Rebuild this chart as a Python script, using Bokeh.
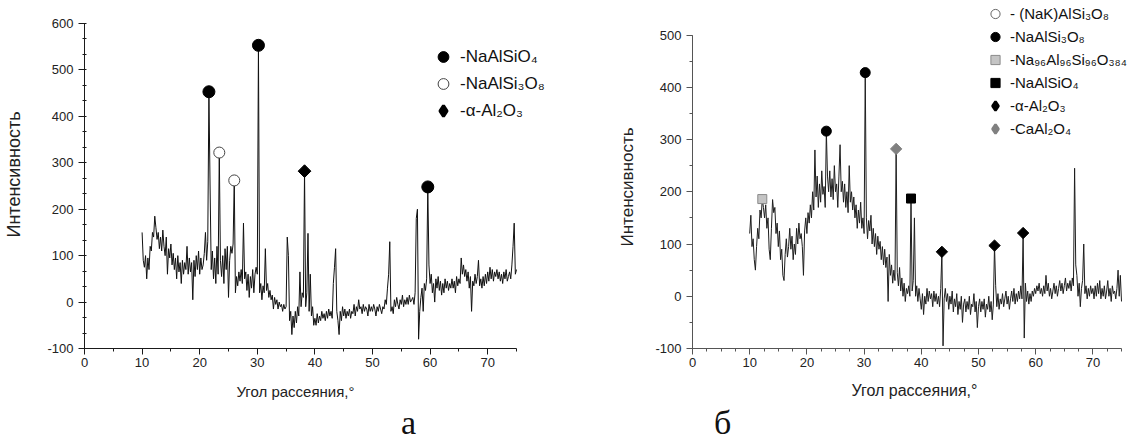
import numpy as np
from bokeh.plotting import figure
from bokeh.layouts import row, column
from bokeh.models import (SingleIntervalTicker, Range1d, Legend, LegendItem, Title, Div,
                          PrintfTickFormatter)
from bokeh.embed import file_html
from bokeh.resources import INLINE

# ---------------- data ----------------
ANGLE_START = 10.0
ANGLE_STEP = 0.2

# panel "а": intensity every 0.2 deg from 10.0 to 75.0
INTENSITY_A = [
    150, 90, 75, 100, 50, 95, 70, 120, 110, 150,
    140, 185, 160, 135, 150, 115, 140, 110, 155, 120,
    100, 140, 60, 115, 95, 125, 80, 105, 70, 95,
    50, 100, 65, 85, 40, 90, 60, 85, 70, 120,
    60, 95, 65, 85, 5, 90, 55, 100, 70, 110,
    60, 95, 70, 80, 105, 150, 90, 130, 453, 250,
    70, 110, 50, 95, 40, 120, 60, 322, 90, 55,
    100, 40, 115, 70, 120, 10, 90, 120, 105, 125,
    262, 20, 55, 35, 65, 45, 70, 40, 170, 50,
    65, 25, 60, 10, 55, 30, 70, 20, 60, 75,
    60, 553, 20, 40, 5, 35, 20, 115, 25, 40,
    10, 25, 5, 15, -15, 10, -5, 5, -15, 0,
    -10, -5, -20, -5, -15, -10, 140, 100, -40, -20,
    -70, -30, -55, -20, -45, -10, -30, 65, -10, 20,
    10, 282, -10, 20, 148, -20, 60, -30, -10, -50,
    -35, -50, -25, -45, -30, -40, -20, -35, -25, -40,
    -20, -35, -15, -30, -20, -35, 40, 75, 115, -20,
    -40, -70, -20, -40, -10, -30, -15, -35, -20, -30,
    -15, -35, -20, -25, -5, -30, -10, -20, 5, -15,
    -10, -25, -5, -20, -10, -15, -30, -5, -20, -10,
    -20, -5, -15, -30, -10, -20, -5, -15, -25, -10,
    -15, 5, -5, 30, 60, 130, -20, -10, -25, 5,
    -10, 10, -5, -15, 5, -5, 15, -10, 5, -5,
    10, -5, 15, 0, 5, 10, -5, 20, 180, 200,
    -80, -20, 10, 30, -20, 40, 25, 50, 248, 80,
    40, 60, 20, 40, 0, 50, 30, 55, 25, 45,
    15, 40, 20, 50, 30, 45, 25, 40, 30, 50,
    30, 45, 20, 55, 35, 50, 40, 95, 60, 80,
    55, 70, 45, 65, 30, 55, -20, 45, 35, 60,
    40, 55, 90, 35, 50, 30, 55, 35, 60, 40,
    65, 45, 75, 50, 70, 45, 65, 55, 70, 50,
    65, 45, 60, 40, 65, 50, 70, 45, 55, 65,
    50, 80, 120, 170, 60, 70,
]

# panel "б": intensity every 0.2 deg from 10.0 to 75.0
INTENSITY_B = [
    120, 155, 95, 110, 70, 50, 95, 130, 110, 165,
    150, 186, 170, 150, 175, 130, 150, 90, 70, 130,
    185, 160, 170, 120, 140, 95, 125, 70, 90, 40,
    30, 80, 110, 75, 95, 130, 90, 115, 70, 100,
    80, 130, 100, 140, 110, 120, 95, 40, 125, 150,
    120, 160, 140, 175, 150, 200, 165, 280, 190, 230,
    170, 215, 180, 240, 195, 210, 170, 316, 230, 200,
    240, 190, 225, 185, 250, 200, 215, 170, 230, 290,
    200, 220, 180, 215, 170, 200, 160, 250, 180, 200,
    165, 190, 150, 175, 130, 165, 140, 180, 130, 150,
    120, 428, 150, 110, 145, 125, 155, 100, 130, 95,
    120, 80, 115, 90, 105, 70, 95, 60, 90, 55,
    75, -10, 80, 40, 60, 25, 50, 30, 282, 45,
    20, 55, 10, 35, 0, 25, -10, 15, 5, 20,
    0, 187, 10, 30, 150, 0, 20, -10, 15, -5,
    -25, 5, -35, 0, -15, 15, -10, 10, -5, 5,
    -20, 10, -10, 5, -15, 0, -20, 15, 85, -95,
    -5, 15, -10, 5, -25, 0, -15, 10, -30, -5,
    -20, 5, -35, -10, -25, 0, -50, -15, -5, -30,
    -10, -25, 0, -35, -15, -20, 5, -30, -10, -60,
    -20, -5, -30, -10, -25, -5, -40, -15, -25, 0,
    -30, -10, -45, -15, 97, 20, -20, 5, -25, -5,
    -15, 5, -20, -5, 10, -15, 0, -25, -5, 10,
    -10, 15, -15, 5, -10, 10, -5, 20, -5, 121,
    -80, 25, -10, 10, -15, 5, -10, 10, 0, 15,
    5, 20, 10, 25, 5, 15, 0, 20, 5, 40,
    10, 25, 0, 15, -5, 10, 25, 5, 20, 0,
    15, 30, 10, 25, 5, 20, 35, 10, 25, 15,
    30, 10, 35, 20, 245, 60, 40, 0, 25, -20,
    15, 30, 100, 5, 20, -5, 15, 0, 20, 5,
    15, -5, 20, 0, 25, 5, 30, -5, 15, 0,
    20, -5, 10, 30, 0, 15, -10, 20, 5, 10,
    -5, 15, 50, 0, 40, -10,
]

# peak markers, panel "а"
A_NAALSIO4_X = [21.6, 30.2, 59.6]
A_NAALSIO4_Y = [453, 553, 248]
A_NAALSI3O8_X = [23.4, 26.0]
A_NAALSI3O8_Y = [322, 262]
A_AL2O3_X = [38.2]
A_AL2O3_Y = [282]

# peak markers, panel "б"
B_NAALSI3O8_X = [23.4, 30.2]
B_NAALSI3O8_Y = [316, 428]
B_NA96_X = [12.2]
B_NA96_Y = [186]
B_NAALSIO4_X = [38.2]
B_NAALSIO4_Y = [187]
B_AL2O3_X = [43.6, 52.8, 57.8]
B_AL2O3_Y = [85, 97, 121]
B_CAAL2O4_X = [35.6]
B_CAAL2O4_Y = [282]

LEGEND_A = ["-NaAlSiO₄", "-NaAlSi₃O₈", "-α-Al₂O₃"]
LEGEND_B = ["- (NaK)AlSi₃O₈", "-NaAlSi₃O₈", "-Na₉₆Al₉₆Si₉₆O₃₈₄",
            "-NaAlSiO₄", "-α-Al₂O₃", "-CaAl₂O₄"]

X_LABEL = "Угол рассеяния,°"
Y_LABEL = "Интенсивность"
PANEL_LETTERS = ["а", "б"]

X_AXIS = (0, 75)
Y_AXIS_A = (-100, 600)
Y_AXIS_B = (-100, 500)

angles_a = ANGLE_START + ANGLE_STEP * np.arange(len(INTENSITY_A))
angles_b = ANGLE_START + ANGLE_STEP * np.arange(len(INTENSITY_B))
NO_POINT = [float("nan")]   # legend-only renderers

FONT = "Liberation Sans"
ROT = np.pi / 4
FIG_H = 414          # figures occupy page y 0..414, panel letters below
FRAME_BOTTOM = 348   # page y of the x axis; both frames span page y 0..348


def style_axes(p, axis_color, minor_x, minor_y, xtick, ytick, ybounds):
    p.xaxis.ticker = SingleIntervalTicker(interval=10, num_minor_ticks=minor_x)
    p.yaxis.ticker = SingleIntervalTicker(interval=100, num_minor_ticks=minor_y)
    p.xaxis.formatter = PrintfTickFormatter(format="%d")
    p.yaxis.formatter = PrintfTickFormatter(format="%d")
    p.xaxis.bounds = X_AXIS
    p.yaxis.bounds = ybounds
    p.xgrid.visible = False
    p.ygrid.visible = False
    p.outline_line_color = None
    for ax in (p.xaxis[0], p.yaxis[0]):
        ax.axis_line_color = axis_color
        ax.major_tick_line_color = axis_color
        ax.minor_tick_line_color = axis_color
        ax.major_tick_in = 0
        ax.major_tick_out = 6
        ax.major_label_text_font = FONT
        ax.major_label_text_font_size = "13px"
        ax.major_label_text_color = "#222222"
        ax.axis_label_text_font = FONT
        ax.axis_label_text_font_style = "normal"
        ax.axis_label_text_color = "#222222"
    p.xaxis[0].minor_tick_in, p.xaxis[0].minor_tick_out = xtick
    p.yaxis[0].minor_tick_in, p.yaxis[0].minor_tick_out = ytick
    p.xaxis[0].major_label_standoff = 3
    p.yaxis[0].major_label_standoff = 5


def text_title(text, size, align, offset, standoff):
    return Title(text=text, align=align, offset=offset, standoff=standoff,
                 vertical_align="middle", text_font=FONT, text_font_size=size,
                 text_font_style="normal", text_color="#222222")


# ---------------- panel а ----------------
# frame: page x 84..580 (axis drawn only to 75 at x=516), page y 0..348 (axis to 600 at y=23)
p1 = figure(width=580, height=FIG_H, x_range=Range1d(0, 75 * 496 / 432),
            y_range=Range1d(-100, -100 + 700 * 348 / 325), title=None,
            output_backend="svg", toolbar_location=None,
            min_border_left=84, min_border_right=0, min_border_top=0,
            min_border_bottom=FIG_H - FRAME_BOTTOM)
style_axes(p1, "#1a1a1a", 2, 3, (0, 3), (2, 2), Y_AXIS_A)
p1.yaxis.axis_label = Y_LABEL
p1.yaxis.axis_label_text_font_size = "18px"
p1.yaxis.axis_label_standoff = 20
p1.add_layout(text_title(X_LABEL, "15px", "left", 152, 25), "below")

p1.line(angles_a, INTENSITY_A, line_color="#111111", line_width=1)

ra1 = p1.scatter(A_NAALSIO4_X, A_NAALSIO4_Y, marker="circle", size=12,
                 fill_color="black", line_color="black")
ra2 = p1.scatter(A_NAALSI3O8_X, A_NAALSI3O8_Y, marker="circle", size=11,
                 fill_color="white", line_color="#444444", line_width=1)
p1.scatter(A_AL2O3_X, A_AL2O3_Y, marker="square", angle=ROT, size=9,
           fill_color="black", line_color="black")
ra3 = p1.scatter(NO_POINT, NO_POINT, marker="diamond", size=12,
                 fill_color="black", line_color="black", line_width=3)

leg1 = Legend(items=[LegendItem(label=LEGEND_A[0], renderers=[ra1]),
                     LegendItem(label=LEGEND_A[1], renderers=[ra2]),
                     LegendItem(label=LEGEND_A[2], renderers=[ra3])],
              location=(343, 224), padding=0, margin=0, spacing=0,
              glyph_width=32, glyph_height=27, label_height=27, label_standoff=1,
              label_text_font=FONT, label_text_font_size="17px",
              label_text_color="#111111",
              border_line_color=None, background_fill_alpha=0)
p1.add_layout(leg1)

# ---------------- panel б ----------------
# frame: page x 692..1136 (axis drawn only to 75 at x=1121), page y 0..348 (axis to 500 at y=34.5)
p2 = figure(width=556, height=FIG_H, x_range=Range1d(0, 75 * 444 / 429),
            y_range=Range1d(-100, -100 + 600 * 348 / 313.5), title=None,
            output_backend="svg", toolbar_location=None,
            min_border_left=112, min_border_right=0, min_border_top=0,
            min_border_bottom=FIG_H - FRAME_BOTTOM)
style_axes(p2, "#555555", 4, 2, (0, 3), (0, 3), Y_AXIS_B)
p2.xaxis.axis_label = X_LABEL
p2.xaxis.axis_label_text_font_size = "16px"
p2.xaxis.axis_label_standoff = 12
p2.add_layout(text_title(Y_LABEL, "17px", "left", 102, 30), "left")

p2.line(angles_b, INTENSITY_B, line_color="#1e1e1e", line_width=1)

rb0 = p2.scatter(NO_POINT, NO_POINT, marker="circle", size=10,
                 fill_color="white", line_color="#666666")
rb1 = p2.scatter(B_NAALSI3O8_X, B_NAALSI3O8_Y, marker="circle", size=10,
                 fill_color="black", line_color="black")
rb2 = p2.scatter(B_NA96_X, B_NA96_Y, marker="square", size=9,
                 fill_color="#c4c4c4", line_color="#8a8a8a")
rb3 = p2.scatter(B_NAALSIO4_X, B_NAALSIO4_Y, marker="square", size=9,
                 fill_color="black", line_color="black")
p2.scatter(B_AL2O3_X, B_AL2O3_Y, marker="square", angle=ROT, size=8,
           fill_color="black", line_color="black")
p2.scatter(B_CAAL2O4_X, B_CAAL2O4_Y, marker="square", angle=ROT, size=8,
           fill_color="#808080", line_color="#808080")
rb4 = p2.scatter(NO_POINT, NO_POINT, marker="diamond", size=10,
                 fill_color="black", line_color="black", line_width=2.5)
rb5 = p2.scatter(NO_POINT, NO_POINT, marker="diamond", size=10,
                 fill_color="#808080", line_color="#808080", line_width=2.5)

leg2 = Legend(items=[LegendItem(label=LEGEND_B[i], renderers=[r])
                     for i, r in enumerate([rb0, rb1, rb2, rb3, rb4, rb5])],
              location=(290, 208), padding=0, margin=0, spacing=0,
              glyph_width=26, glyph_height=23, label_height=23, label_standoff=2,
              label_text_font=FONT, label_text_font_size="15px",
              label_text_color="#111111",
              border_line_color=None, background_fill_alpha=0)
p2.add_layout(leg2)

# ---------------- panel letters ----------------
LETTER_CSS = ("position:absolute;top:-12px;line-height:32px;"
              "font-family:'Liberation Serif';font-size:34px;color:#111111;")
letters_html = ('<div style="position:relative;height:23px;">'
                '<span style="%sleft:396px;">%s</span>'
                '<span style="%sleft:709px;">%s</span></div>'
                % (LETTER_CSS, PANEL_LETTERS[0], LETTER_CSS, PANEL_LETTERS[1]))
letters = Div(text=letters_html, width=1136, height=23,
              styles={"overflow": "visible"})

layout = column(row(p1, p2), letters)
open("out.html", "w").write(file_html(layout, INLINE))
